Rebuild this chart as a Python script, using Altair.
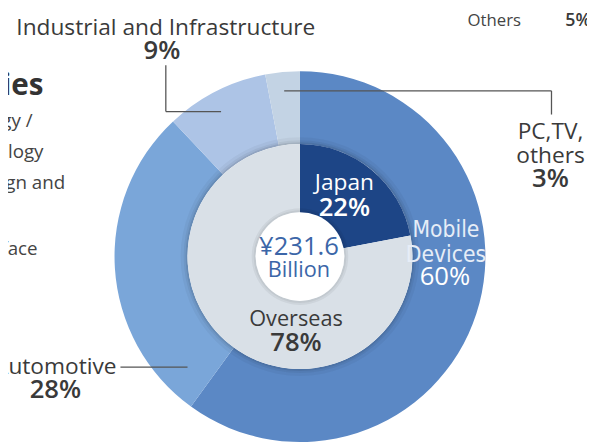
import altair as alt
import pandas as pd

# ---------------- data ----------------
outer_segments = ["Mobile Devices", "Automotive", "Industrial and Infrastructure", "PC,TV, others"]
outer_values = [60, 28, 9, 3]
inner_segments = ["Japan", "Overseas"]
inner_values = [22, 78]
total_lines = ["¥231.6", "Billion"]
others_name = "Others"
others_value = 5
side_fragments = ["gies", "gy /", "ology", "gn and", "face", "d"]

# ---------------- styles ----------------
outer_colors = ["#5b88c5", "#7aa6d9", "#adc4e6", "#c3d3e4"]
inner_colors = ["#1d4586", "#d9e0e7"]
FONT = "Open Sans"
NARROW = "'Liberation Sans Narrow', 'DejaVu Sans Condensed', 'Open Sans'"
DARK = "#3a3a3a"
BLUE_TXT = "#3b66a8"

W, H = 587, 435
OFF = 8


def px(v):
    return v - OFF


CX, CY = px(304), px(257)
R_OUT, R_MID, R_IN = 188, 114, 45

layers = []

outer_df = pd.DataFrame({"outer": outer_segments, "value": outer_values,
                         "idx": list(range(len(outer_segments)))})
layers.append(
    alt.Chart(outer_df).mark_arc(strokeWidth=0).encode(
        theta=alt.Theta("value:Q", stack=True),
        order=alt.Order("idx:Q"),
        color=alt.Color("outer:N", scale=alt.Scale(domain=outer_segments, range=outer_colors), legend=None),
        x=alt.value(CX), y=alt.value(CY),
        radius=alt.value(R_OUT), radius2=alt.value(R_MID),
    )
)

one = pd.DataFrame({"k": [0]})
# soft shadow on the outer ring around the inner disc
for r0, r1, op in [(R_MID, R_MID + 2, 0.16), (R_MID + 2, R_MID + 4, 0.09), (R_MID + 4, R_MID + 7, 0.04)]:
    layers.append(
        alt.Chart(one).mark_arc(color="#000000", opacity=op, strokeWidth=0).encode(
            theta=alt.value(0), theta2=alt.value(6.2832),
            x=alt.value(CX), y=alt.value(CY),
            radius=alt.value(r1), radius2=alt.value(r0),
        )
    )

inner_df = pd.DataFrame({"inner": inner_segments, "value": inner_values,
                         "idx": list(range(len(inner_segments)))})
layers.append(
    alt.Chart(inner_df).mark_arc(strokeWidth=0).encode(
        theta=alt.Theta("value:Q", stack=True),
        order=alt.Order("idx:Q"),
        color=alt.Color("inner:N", scale=alt.Scale(domain=inner_segments, range=inner_colors), legend=None),
        x=alt.value(CX), y=alt.value(CY),
        radius=alt.value(R_MID), radius2=alt.value(0),
    )
)
# shadow of centre disc
for r0, r1, op in [(R_IN, R_IN + 2, 0.10), (R_IN + 2, R_IN + 4, 0.05)]:
    layers.append(
        alt.Chart(one).mark_arc(color="#000000", opacity=op, strokeWidth=0).encode(
            theta=alt.value(0), theta2=alt.value(6.2832),
            x=alt.value(CX), y=alt.value(CY),
            radius=alt.value(r1), radius2=alt.value(r0),
        )
    )
layers.append(
    alt.Chart(one).mark_arc(color="#ffffff", strokeWidth=0).encode(
        theta=alt.value(0), theta2=alt.value(6.2832),
        x=alt.value(CX), y=alt.value(CY),
        radius=alt.value(R_IN),
    )
)


def rule(x1, y1, x2, y2):
    return alt.Chart(one).mark_rule(color="#555555", strokeWidth=1.3).encode(
        x=alt.value(px(x1)), x2=alt.value(px(x2)), y=alt.value(px(y1)), y2=alt.value(px(y2))
    )


layers += [
    rule(168, 63, 168, 110), rule(168, 110, 224, 110),
    rule(288, 89, 559, 89), rule(559, 89, 559, 113),
    rule(122, 369, 190, 369),
]


def text(t, x, y, size, color=DARK, weight="normal", align="center", font=FONT):
    return alt.Chart(one).mark_text(
        text=t, font=font, fontSize=size, fontWeight=weight, color=color,
        align=align, baseline="alphabetic",
    ).encode(x=alt.value(px(x)), y=alt.value(px(y)))


PCT = 26
# outside labels
layers += [
    text(outer_segments[2], 168, 32, 23),
    text(f"{outer_values[2]}%", 164, 57, PCT, weight=600),
    text("PC,TV,", 558, 138, 23),
    text("others", 558, 162, 23),
    text(f"{outer_values[3]}%", 558, 186, PCT, weight=600),
    text(outer_segments[1], 118, 376, 23, align="right"),
    text(f"{outer_values[1]}%", 56, 400, PCT, weight=600),
    text(others_name, 501, 23, 17, color="#444444"),
    text(f"{others_value}%", 573, 23, 18, weight=600, align="left"),
]

# inside labels
layers += [
    text(inner_segments[0], 349, 190, 23, color="#ffffff"),
    text(f"{inner_values[0]}%", 349, 216, PCT, color="#ffffff", weight=600),
    text("Mobile", 452, 237, 23, color="#e6edf7", font=NARROW),
    text("Devices", 452, 262, 23, color="#e6edf7", font=NARROW),
    text(f"{outer_values[0]}%", 451, 286, PCT, color="#ffffff"),
    text(total_lines[0], 303, 255, 26, color=BLUE_TXT),
    text(total_lines[1], 303, 278, 22, color=BLUE_TXT),
    text(inner_segments[1], 300, 327, 22),
    text(f"{inner_values[1]}%", 300, 353, PCT, weight=600),
]

# clipped text on the left edge
side_pos = [(44, 93, 30, "bold"), (33, 126, 19, "normal"), (44, 157, 19, "normal"),
            (66, 188, 19, "normal"), (38, 255, 19, "normal"), (8, 318, 19, "normal")]
for frag, (xr, yb, sz, wt) in zip(side_fragments, side_pos):
    layers.append(text(frag, xr, yb, sz, color="#333333" if wt == "bold" else "#444444",
                       weight=wt, align="right"))

chart = alt.layer(*layers).resolve_scale(color="independent", theta="independent").properties(
    width=W, height=H, autosize="none", padding=0
).configure_view(strokeWidth=0)

chart.save("out.html", embed_options={"renderer": "svg", "actions": False})
